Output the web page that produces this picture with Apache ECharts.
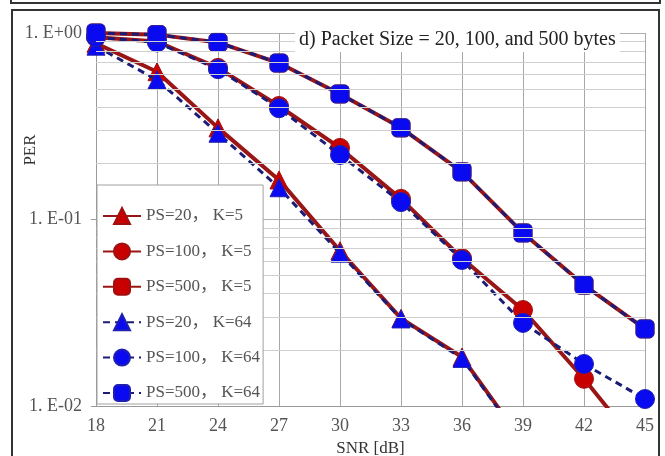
<!DOCTYPE html>
<html>
<head>
<meta charset="utf-8">
<script src="https://cdn.jsdelivr.net/npm/echarts@6/dist/echarts.min.js"></script>
<style>html,body{margin:0;padding:0;background:#fff}#c{width:665px;height:456px}</style>
</head>
<body>
<div id="c"></div>
<script>
const snr = [18, 21, 24, 27, 30, 33, 36, 39, 42, 45];
const ps20_k5   = [0.88, 0.62, 0.31, 0.163, 0.068, 0.0295, 0.0183, 0.0064, null, null];
const ps100_k5  = [0.95, 0.90, 0.65, 0.406, 0.242, 0.129, 0.062, 0.0327, 0.0140, 0.0055];
const ps500_k5  = [1.0, 0.98, 0.89, 0.69, 0.471, 0.31, 0.18, 0.0847, 0.0445, 0.0259];
const ps20_k64  = [0.85, 0.56, 0.29, 0.148, 0.066, 0.0293, 0.0180, 0.0063, null, null];
const ps100_k64 = [0.95, 0.89, 0.64, 0.395, 0.222, 0.124, 0.0607, 0.0279, 0.0168, 0.0109];
const ps500_k64 = [1.0, 0.98, 0.89, 0.69, 0.471, 0.31, 0.18, 0.0847, 0.0445, 0.0259];
const minorGrid = [0.02,0.03,0.04,0.05,0.06,0.07,0.08,0.09,0.2,0.3,0.4,0.5,0.6,0.7,0.8,0.9];
const yTickLabels = {'1': '1. E+00', '0.1': '1. E-01', '0.01': '1. E-02'};
const names = ['PS=20， K=5','PS=100， K=5','PS=500， K=5','PS=20， K=64','PS=100， K=64','PS=500， K=64'];

const SERIF = '"Liberation Serif", "Noto Sans CJK JP", serif';
const pair = arr => snr.map((x, i) => [x, arr[i]]);

function redSeries(name, arr, sym, size) {
  return {
    name, type: 'line', data: pair(arr), symbol: sym, symbolSize: size,
    lineStyle: {color: '#9a1616', width: 4},
    itemStyle: {color: '#c80000', borderColor: '#a01010', borderWidth: 1},
    z: 3, clip: true, connectNulls: false
  };
}
function blueSeries(name, arr, sym, size) {
  return {
    name, type: 'line', data: pair(arr), symbol: sym, symbolSize: size,
    lineStyle: {color: '#1c1c78', width: 3, type: [7, 5]},
    itemStyle: {color: '#0a0af0', borderColor: '#2020b0', borderWidth: 1},
    z: 4, clip: true, connectNulls: false
  };
}

const chart = echarts.init(document.getElementById('c'));
chart.setOption({
  animation: false,
  backgroundColor: '#fff',
  grid: {left: 96, right: 20, top: 33, bottom: 50, containLabel: false, outerBoundsMode: 'none'},
  title: {
    text: 'd) Packet Size = 20, 100, and 500 bytes',
    left: 295, top: 28, padding: [2, 4, 2, 4],
    backgroundColor: '#fff',
    textStyle: {fontFamily: SERIF, fontSize: 20, fontWeight: 'normal', color: '#222'}
  },
  legend: {
    data: names, orient: 'vertical', left: 97, top: 185,
    backgroundColor: '#fff', borderColor: '#a0a0a0', borderWidth: 1,
    padding: [22, 3, 2, 5], itemWidth: 38, itemHeight: 20, itemGap: 17.4,
    textStyle: {fontFamily: SERIF, fontSize: 17, color: '#555'},
    z: 10
  },
  xAxis: {
    type: 'value', min: 18, max: 45, interval: 3,
    name: 'SNR [dB]', nameLocation: 'middle', nameGap: 24,
    nameTextStyle: {fontFamily: SERIF, fontSize: 17, color: '#333'},
    axisLine: {show: true, lineStyle: {color: '#999'}},
    axisTick: {show: false},
    axisLabel: {fontFamily: SERIF, fontSize: 18, color: '#555', margin: 11},
    splitLine: {show: true, lineStyle: {color: '#a8a8a8', width: 1}}
  },
  yAxis: {
    type: 'log', logBase: 10, min: 0.01, max: 1,
    axisLine: {show: true, lineStyle: {color: '#999'}},
    axisTick: {show: true, length: 5, lineStyle: {color: '#999'}},
    axisLabel: {fontFamily: SERIF, fontSize: 18, color: '#555', margin: 14,
      formatter: v => yTickLabels[String(+v.toPrecision(3))] || ''},
    splitLine: {show: true, lineStyle: {color: '#b0b0b0', width: 1}}
  },
  graphic: [
    {type: 'rect', shape: {x: 12, y: 10, width: 647, height: 470}, style: {fill: 'none', stroke: '#333', lineWidth: 2}, z: 100, silent: true},
    {type: 'rect', shape: {x: 11, y: -20, width: 649, height: 23}, style: {fill: 'none', stroke: '#333', lineWidth: 2}, z: 100, silent: true},
    {type: 'text', x: 31, y: 150, rotation: Math.PI / 2,
      style: {text: 'PER', font: '17px ' + SERIF, fill: '#333', textAlign: 'center', textVerticalAlign: 'middle'}, z: 100}
  ],
  series: [
    {
      name: 'minor', type: 'line', data: [[18, 1]], symbol: 'none', showSymbol: false,
      lineStyle: {opacity: 0}, silent: true, z: 1,
      markLine: {
        silent: true, symbol: ['none', 'none'], label: {show: false},
        lineStyle: {color: '#cfcfcf', type: 'solid', width: 1},
        emphasis: {disabled: true},
        data: minorGrid.map(v => ({yAxis: v}))
      }
    },
    redSeries(names[0], ps20_k5, 'triangle', 18),
    redSeries(names[1], ps100_k5, 'circle', 19),
    redSeries(names[2], ps500_k5, 'roundRect', 18),
    blueSeries(names[3], ps20_k64, 'triangle', 18),
    blueSeries(names[4], ps100_k64, 'circle', 19),
    blueSeries(names[5], ps500_k64, 'roundRect', 18)
  ]
});
</script>
</body>
</html>
